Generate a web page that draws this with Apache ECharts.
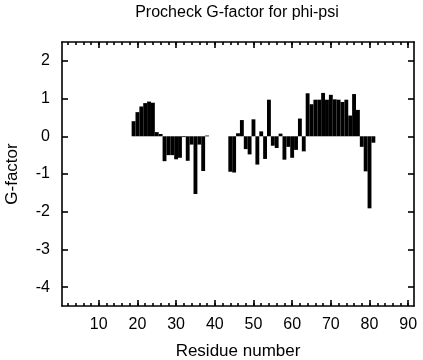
<!DOCTYPE html>
<html>
<head>
<meta charset="utf-8">
<script src="https://cdn.jsdelivr.net/npm/echarts@6/dist/echarts.min.js"></script>
<style>html,body{margin:0;padding:0;background:#fff}#c{width:423px;height:360px}</style>
</head>
<body>
<div id="c"></div>
<script>
// Data
const residues = [19,20,21,22,23,24,25,26,27,28,29,30,31,32,33,34,35,36,37,38,
  44,45,46,47,48,49,50,51,52,53,54,55,56,57,58,59,60,61,62,63,
  64,65,66,67,68,69,70,71,72,73,74,75,76,77,78,79,80,81];
const gfactor = [0.40,0.64,0.79,0.88,0.92,0.89,0.11,0.06,-0.66,-0.50,-0.50,-0.61,-0.57,-0.02,-0.65,-0.22,-1.53,-0.22,-0.92,0.02,
  -0.94,-0.96,0.08,0.43,-0.34,-0.48,0.45,-0.75,0.13,-0.60,0.97,-0.25,-0.31,0.07,-0.62,-0.28,-0.57,-0.36,0.47,-0.40,
  1.14,0.85,0.97,0.97,1.15,0.97,1.10,0.98,0.97,0.91,0.97,0.55,1.12,0.70,-0.28,-0.93,-1.91,-0.17];
const xRange = [0.5, 91.5];
const yRange = [-4.5, 2.5];
const xMajor = {min: 10, max: 90, step: 10};
const xMinor = {min: 2, max: 90, step: 2};
const yMajor = {min: -4, max: 2, step: 1};

const W = 423, H = 360;
const L = 62, R = 414, T = 42, B = 306;
const ux = (R - L) / (xRange[1] - xRange[0]);
const uy = (B - T) / (yRange[1] - yRange[0]);
const px = v => L + (v - xRange[0]) * ux;
const py = v => T + (yRange[1] - v) * uy;

const font = 'Liberation Sans';
const fs = 16;
const fsName = 17;
const black = '#000';
const lw = 1.6;

const chart = echarts.init(document.getElementById('c'), null, {renderer: 'canvas'});

const hidden = {show: false};
function tickAxis(grid, pos, rng, len, labels, margin) {
  return {
    type: 'value', gridIndex: grid, position: pos,
    min: rng.min, max: rng.max, interval: rng.step,
    axisLine: {show: false, onZero: false}, splitLine: hidden,
    axisTick: {show: true, inside: true, length: len, lineStyle: {color: black, width: lw}},
    axisLabel: labels ? {show: true, color: black, fontFamily: font, fontSize: fs, margin: margin} : hidden
  };
}
function dummy(grid) {
  return {type: 'value', gridIndex: grid, min: 0, max: 1, axisLine: hidden, axisTick: hidden, axisLabel: hidden, splitLine: hidden};
}
function frameAxis(pos) {
  return {type: 'value', gridIndex: 0, position: pos,
    min: (pos === 'left' || pos === 'right') ? yRange[0] : xRange[0],
    max: (pos === 'left' || pos === 'right') ? yRange[1] : xRange[1],
    axisLine: {show: true, onZero: false, lineStyle: {color: black, width: lw}},
    axisTick: hidden, axisLabel: hidden, splitLine: hidden};
}
function gridBox(left, right, top, bottom) {
  return {left: left, right: W - right, top: top, bottom: H - bottom, containLabel: false, outerBoundsMode: 'none'};
}

const xFrameB = Object.assign(frameAxis('bottom'), {
  name: 'Residue number', nameLocation: 'middle', nameGap: 37,
  nameTextStyle: {color: black, fontFamily: font, fontSize: fsName}});
const yFrameL = Object.assign(frameAxis('left'), {
  name: 'G-factor', nameLocation: 'middle', nameGap: 41,
  nameTextStyle: {color: black, fontFamily: font, fontSize: fsName}});

const option = {
  animation: false,
  backgroundColor: '#fff',
  title: {
    text: 'Procheck G-factor for phi-psi',
    left: 232, textAlign: 'center', top: 0,
    textStyle: {color: black, fontFamily: font, fontSize: fs, fontWeight: 'normal'}
  },
  grid: [
    gridBox(L, R, T, B),
    gridBox(px(xMinor.min), px(xMinor.max), T, B),
    gridBox(px(xMajor.min), px(xMajor.max), T, B),
    gridBox(L, R, py(yMajor.max), py(yMajor.min))
  ],
  xAxis: [
    xFrameB,
    frameAxis('top'),
    tickAxis(1, 'bottom', xMinor, 3, false),
    tickAxis(1, 'top', xMinor, 3, false),
    tickAxis(2, 'bottom', xMajor, 6, true, 11),
    tickAxis(2, 'top', xMajor, 6, false),
    dummy(3)
  ],
  yAxis: [
    yFrameL,
    frameAxis('right'),
    dummy(1),
    dummy(2),
    tickAxis(3, 'left', yMajor, 6, true, 12),
    tickAxis(3, 'right', yMajor, 6, false)
  ],
  series: [{
    type: 'custom',
    xAxisIndex: 0, yAxisIndex: 0,
    data: residues.map((r, i) => [r, gfactor[i]]),
    renderItem: function (params, api) {
      const x = api.value(0), y = api.value(1);
      const a = api.coord([x - 0.5, 0]);
      const b = api.coord([x + 0.5, y]);
      return {
        type: 'rect',
        shape: {x: a[0], y: Math.min(a[1], b[1]), width: b[0] - a[0], height: Math.max(Math.abs(b[1] - a[1]), 0.8)},
        style: {fill: black}
      };
    }
  }]
};
chart.setOption(option);
</script>
</body>
</html>
